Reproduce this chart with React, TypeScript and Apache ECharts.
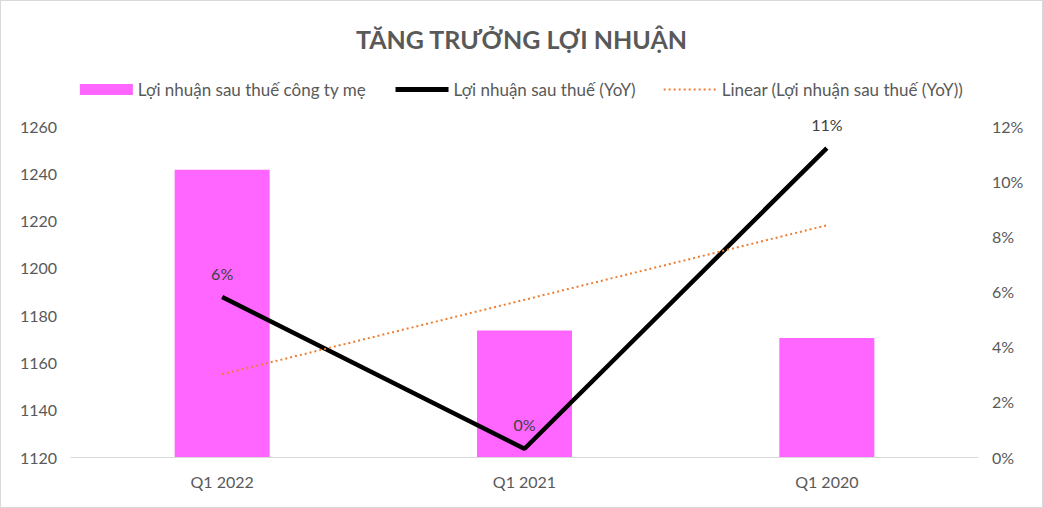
import { useEffect, useRef } from "react";
import * as echarts from "echarts";

const categories = ["Q1 2022", "Q1 2021", "Q1 2020"];
const profitValues = [1241.5, 1173.5, 1170.3];
const yoyValues = [5.8, 0.3, 11.2];
const trendValues = [3.0, 5.7, 8.4];

const FONT = "Lato, 'Noto Sans', sans-serif";
const TEXT = "#595959";

export default function App(): JSX.Element {
  const rootRef = useRef<HTMLDivElement | null>(null);

  useEffect(() => {
    if (!rootRef.current) return undefined;
    const chart = echarts.init(rootRef.current, undefined, { renderer: "svg" });

    const option: echarts.EChartsOption = {
      animation: false,
      backgroundColor: "#ffffff",
      textStyle: { fontFamily: FONT, color: TEXT },
      title: {
        text: "TĂNG TRƯỞNG LỢI NHUẬN",
        left: "center",
        top: 20,
        textStyle: { fontFamily: FONT, fontSize: 25, fontWeight: "bold", color: TEXT }
      },
      legend: {
        top: 75,
        left: "center",
        itemGap: 27,
        itemWidth: 53,
        itemHeight: 11,
        textStyle: { fontFamily: FONT, fontSize: 17, color: TEXT },
        data: [
          { name: "Lợi nhuận sau thuế công ty mẹ", icon: "rect" },
          {
            name: "Lợi nhuận sau thuế (YoY)",
            itemStyle: { opacity: 0 },
            lineStyle: { color: "#000000", width: 5 }
          },
          {
            name: "Linear (Lợi nhuận sau thuế (YoY))",
            itemStyle: { opacity: 0 },
            lineStyle: { color: "#ED7D31", width: 2, type: [2, 3] }
          }
        ]
      },
      grid: { left: 70, right: 64, top: 125, bottom: 50 },
      xAxis: {
        type: "category",
        data: categories,
        axisTick: { show: false },
        axisLine: { lineStyle: { color: "#d9d9d9", width: 1 } },
        axisLabel: { fontFamily: FONT, fontSize: 16, color: TEXT, margin: 16 }
      },
      yAxis: [
        {
          type: "value",
          min: 1120,
          max: 1260,
          interval: 20,
          splitLine: { show: false },
          axisLine: { show: false },
          axisTick: { show: false },
          axisLabel: {
            fontFamily: FONT,
            fontSize: 16,
            color: TEXT,
            margin: 14,
            formatter: (v: number) => String(v)
          }
        },
        {
          type: "value",
          min: 0,
          max: 12,
          interval: 2,
          splitLine: { show: false },
          axisLine: { show: false },
          axisTick: { show: false },
          axisLabel: {
            fontFamily: FONT,
            fontSize: 16,
            color: TEXT,
            margin: 14,
            formatter: "{value}%"
          }
        }
      ],
      series: [
        {
          name: "Lợi nhuận sau thuế công ty mẹ",
          type: "bar",
          data: profitValues,
          barWidth: 95,
          itemStyle: { color: "#FF66FF" }
        },
        {
          name: "Lợi nhuận sau thuế (YoY)",
          type: "line",
          yAxisIndex: 1,
          data: yoyValues,
          symbol: "circle",
          symbolSize: 0,
          showSymbol: true,
          lineStyle: { color: "#000000", width: 4.5 },
          itemStyle: { color: "#000000" },
          label: {
            show: true,
            position: "top",
            distance: 16,
            fontFamily: FONT,
            fontSize: 16,
            color: "#404040",
            formatter: (p: any) => `${Math.round(Number(p.value))}%`
          }
        },
        {
          name: "Linear (Lợi nhuận sau thuế (YoY))",
          type: "line",
          yAxisIndex: 1,
          data: trendValues,
          symbol: "none",
          lineStyle: { color: "#ED7D31", width: 2, type: [2, 3] },
          itemStyle: { color: "#ED7D31" }
        }
      ]
    };

    chart.setOption(option);
    return () => {
      chart.dispose();
    };
  }, []);

  return (
    <div
      ref={rootRef}
      style={{
        position: "absolute",
        left: 0,
        top: 0,
        width: 1043,
        height: 508,
        boxSizing: "border-box",
        border: "1px solid #d9d9d9"
      }}
    />
  );
}
